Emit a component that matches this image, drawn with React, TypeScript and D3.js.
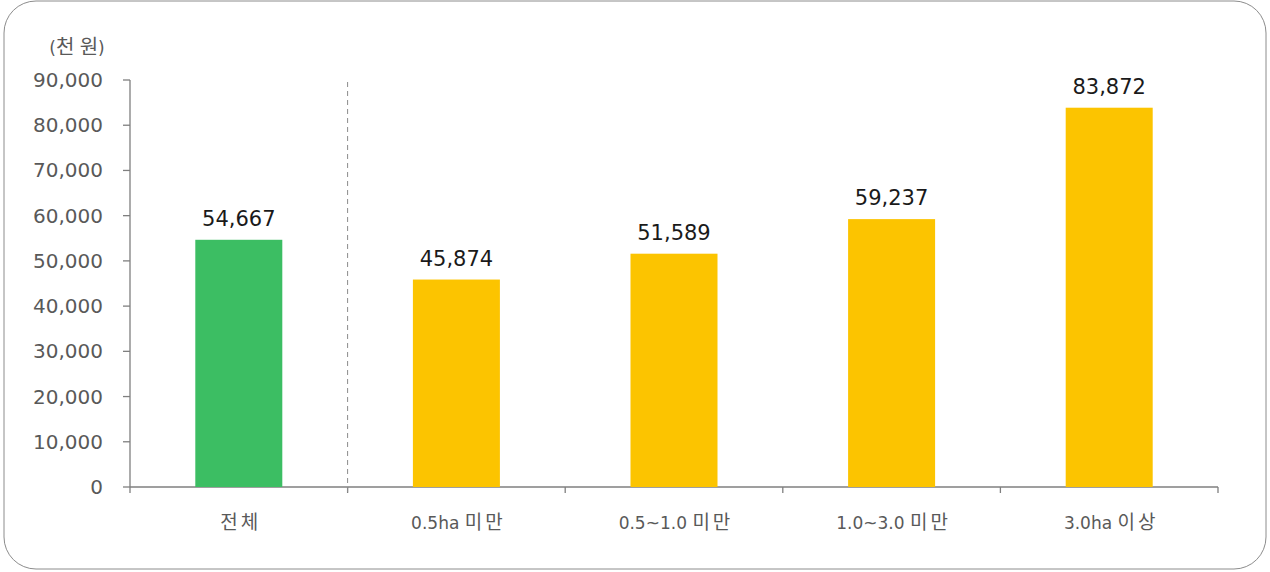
import React from "react";
import * as d3 from "d3";

const categories = ["전체", "0.5ha 미만", "0.5~1.0 미만", "1.0~3.0 미만", "3.0ha 이상"];
const values = [54667, 45874, 51589, 59237, 83872];
const yTicks = [0, 10000, 20000, 30000, 40000, 50000, 60000, 70000, 80000, 90000];
const unitLabel = "(천 원)";

const W = 1270;
const H = 572;
const FONT = "'DejaVu Sans', 'Noto Sans CJK KR', sans-serif";
const KFONT = "'Noto Sans CJK KR', sans-serif";

function runs(text: string, latinSize: number, korSize: number, spacing: number) {
  const parts = text.split(/([가-힣]+)/).filter((p) => p.length > 0);
  return parts.map((p, i) =>
    /[가-힣]/.test(p) ? (
      <tspan key={i} fontFamily={KFONT} fontSize={korSize} letterSpacing={spacing}>{p}</tspan>
    ) : (
      <tspan key={i} fontFamily={FONT} fontSize={latinSize}>{p}</tspan>
    )
  );
}

export default function App() {
  const x0 = 130, x1 = 1218, y0 = 487, y1 = 80;
  const xb = d3.scaleBand<string>().domain(categories).range([x0, x1]);
  const y = d3.scaleLinear().domain([0, 90000]).range([y0, y1]);
  const fmt = d3.format(",");
  const bw = 87;
  return (
    <svg width={W} height={H} style={{ position: "absolute", left: 0, top: 0, display: "block" }}>
      <rect x={4} y={1} width={1262} height={568} rx={32} ry={32} fill="#fff" stroke="#8c8c8c" strokeWidth={1} />
      <text x={77} y={54} textAnchor="middle" fill="#595959">{runs(unitLabel, 17, 20, 0)}</text>
      {/* y axis */}
      <line x1={x0} x2={x0} y1={y(90000)} y2={y0} stroke="#7f7f7f" strokeWidth={1.3} />
      {yTicks.map((t) => (
        <g key={t}>
          <line x1={x0 - 7} x2={x0} y1={y(t)} y2={y(t)} stroke="#7f7f7f" strokeWidth={1.3} />
          <text x={103} y={y(t) + 7} textAnchor="end" fontFamily={FONT} fontSize={20} fill="#595959">{fmt(t)}</text>
        </g>
      ))}
      {/* x axis */}
      <line x1={x0} x2={x1} y1={y0} y2={y0} stroke="#7f7f7f" strokeWidth={1.3} />
      {categories.map((c) => (
        <line key={"t" + c} x1={xb(c)!} x2={xb(c)!} y1={y0} y2={y0 + 6} stroke="#7f7f7f" strokeWidth={1.3} />
      ))}
      <line x1={x1} x2={x1} y1={y0} y2={y0 + 6} stroke="#7f7f7f" strokeWidth={1.3} />
      {/* dashed separator */}
      <line x1={xb(categories[1])!} x2={xb(categories[1])!} y1={82} y2={y0 + 5} stroke="#8c8c8c" strokeWidth={1} strokeDasharray="5,4" />
      {categories.map((c, i) => {
        const cx = xb(c)! + xb.bandwidth() / 2;
        return (
          <g key={c}>
            <rect x={cx - bw / 2} y={y(values[i])} width={bw} height={y0 - y(values[i])} fill={i === 0 ? "#3cbe63" : "#fcc400"} />
            <text x={cx} y={y(values[i]) - 14} textAnchor="middle" fontFamily={FONT} fontSize={21} fill="#1a1a1a">{fmt(values[i])}</text>
            <text x={cx + 2} y={529} textAnchor="middle" fill="#595959">{runs(c, 17, 19, 3)}</text>
          </g>
        );
      })}
    </svg>
  );
}
